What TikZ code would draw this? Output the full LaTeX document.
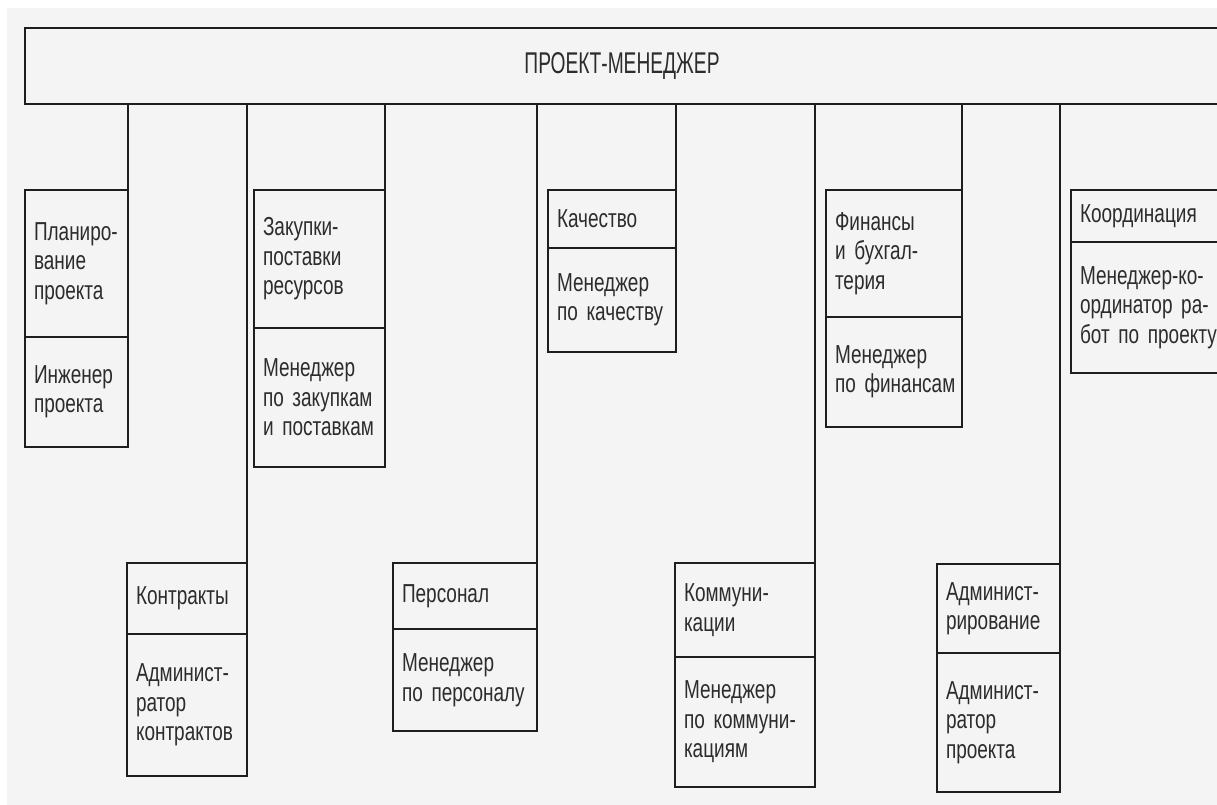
\documentclass[tikz,border=0pt]{standalone}
\usepackage{fontspec}
\setmainfont{Liberation Sans}
\newfontfamily\orgbody[FakeStretch=0.73]{Liberation Sans}
\newfontfamily\orgtitle[FakeStretch=0.64]{Liberation Sans}
\definecolor{paper}{HTML}{F4F4F4}
\definecolor{ink}{HTML}{1E1E1E}
\definecolor{inktext}{HTML}{2C2C2C}
% keep every line as written, never break after a hyphen
\exhyphenpenalty=10000
\hyphenpenalty=10000
\tikzset{
  part/.style={draw=ink, line width=2.2pt, outer sep=0pt, inner xsep=9pt,
    inner ysep=0pt, anchor=north west, align=left, text=inktext,
    font=\orgbody\fontsize{26}{29.5}\selectfont},
  link/.style={draw=ink, line width=1.5pt},
}
\begin{document}
\begin{tikzpicture}[x=1pt,y=-1pt]
\useasboundingbox (0,0) rectangle (1217,805);
\fill[white] (0,0) rectangle (1217,805);
\fill[paper] (7,8) rectangle (1217,805);

% project manager bar
\node[draw=ink, line width=2.2pt, outer sep=0pt, anchor=north west,
  minimum width=1194pt, minimum height=76pt, inner sep=0pt] (pm) at (25,28) {};
\node[text=inktext, font=\orgtitle\fontsize{30}{32}\selectfont] (pmtext) at (pm.center) {ПРОЕКТ-МЕНЕДЖЕР};

% upper row of functions
\node[part, text width=85pt, minimum height=147pt] (plan) at (25,190) {Планиро-\\вание\\проекта};
\node[part, text width=85pt, minimum height=110pt] (planr) at (plan.south west) {Инженер\\проекта};

\node[part, text width=113pt, minimum height=138pt] (zak) at (254,190) {Закупки-\\поставки\\ресурсов};
\node[part, text width=113pt, minimum height=139pt] (zakr) at (zak.south west) {Менеджер\\по~закупкам\\и~поставкам};

\node[part, text width=110pt, minimum height=58pt] (kach) at (548,190) {Качество};
\node[part, text width=110pt, minimum height=104pt] (kachr) at (kach.south west) {Менеджер\\по~качеству};

\node[part, text width=118pt, minimum height=127pt] (fin) at (826,190) {Финансы\\и~бухгал-\\терия};
\node[part, text width=118pt, minimum height=110pt] (finr) at (fin.south west) {Менеджер\\по~финансам};

\node[part, text width=151pt, minimum height=52pt] (koord) at (1071,190) {Координация};
\node[part, text width=151pt, minimum height=131pt] (koordr) at (koord.south west) {Менеджер-ко-\\ординатор~ра-\\бот~по~проекту};

% lower row of functions
\node[part, text width=102pt, minimum height=71pt] (kontr) at (127,563) {Контракты};
\node[part, text width=102pt, minimum height=142pt] (kontrr) at (kontr.south west) {Админист-\\ратор\\контрактов};

\node[part, text width=126pt, minimum height=66pt] (pers) at (393,563) {Персонал};
\node[part, text width=126pt, minimum height=102pt] (persr) at (pers.south west) {Менеджер\\по~персоналу};

\node[part, text width=122pt, minimum height=94pt] (komm) at (675,563) {Коммуни-\\кации};
\node[part, text width=122pt, minimum height=130pt] (kommr) at (komm.south west) {Менеджер\\по~коммуни-\\кациям};

\node[part, text width=105pt, minimum height=89pt] (adm) at (937,564) {Админист-\\рирование};
\node[part, text width=105pt, minimum height=139pt] (admr) at (adm.south west) {Админист-\\ратор\\проекта};

% connectors from the manager bar
\foreach \n in {plan,kontr,zak,pers,kach,komm,fin,adm}
  \draw[link] (pm.south -| \n.north east) -- (\n.north east);
\end{tikzpicture}
\end{document}
